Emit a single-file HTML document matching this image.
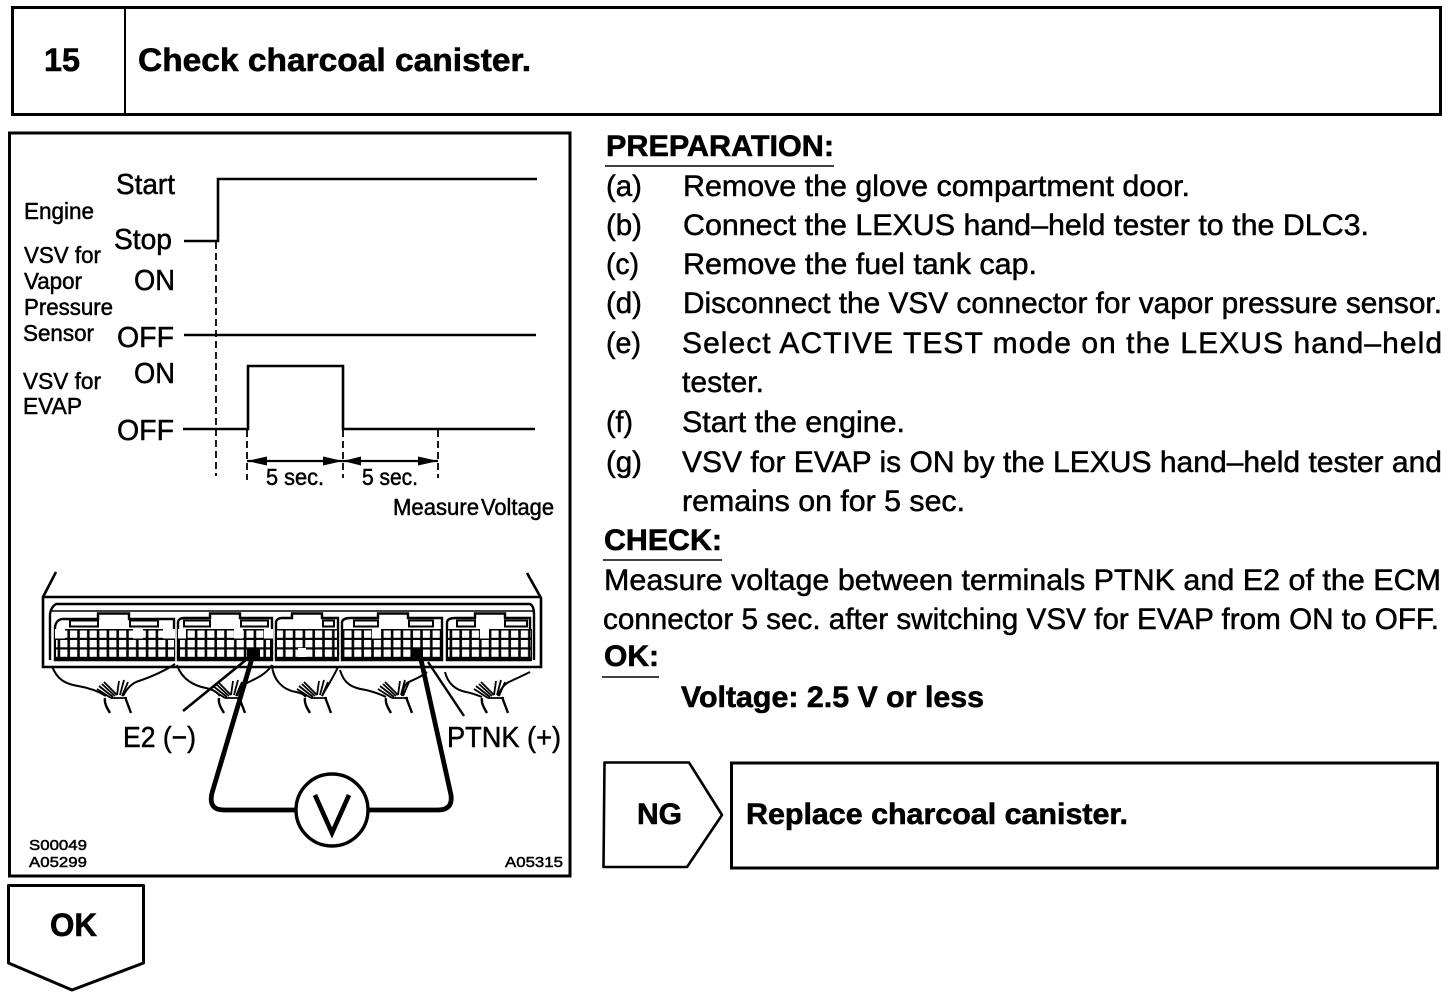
<!DOCTYPE html>
<html lang="en">
<head>
<meta charset="utf-8">
<title>Check charcoal canister</title>
<style>
html,body{margin:0;padding:0;background:#fff;width:1456px;height:998px;overflow:hidden}
svg{display:block}
text{font-family:"Liberation Sans",Arial,sans-serif;fill:#000;stroke:#000;stroke-width:.5}
.b{font-size:30px}
.h{font-weight:700;font-size:32px;stroke-width:.6}
.m{font-size:29px}
.s{font-size:23px}
.t{font-size:15px}
</style>
</head>
<body>
<svg width="1456" height="998" viewBox="0 0 1456 998" xmlns="http://www.w3.org/2000/svg">
<defs>
<pattern id="cells" x="0" y="2" width="9.8" height="9.5" patternUnits="userSpaceOnUse">
<rect x="1.4" y="1.5" width="7.2" height="7.3" fill="#fff"/>
</pattern>
<g id="bundle" fill="none" stroke="#000">
<path d="M105 698C104 703 107 708 110 713M125 697L131 713" stroke-width="2.4"/>
<path d="M97 689L111 698M99 686L113 697M102 684L115 696M104 682L117 695M117 695L119 681M120 695L124 680M122 696L128 682M111 698H127" stroke-width="1.8"/>
</g>
</defs>
<rect width="1456" height="998" fill="#fff"/>

<!-- Header -->
<rect x="12.5" y="7.5" width="1428" height="107" fill="none" stroke="#000" stroke-width="3"/>
<line x1="125" y1="8" x2="125" y2="114" stroke="#000" stroke-width="2"/>
<text x="44" y="71" class="h" textLength="36" lengthAdjust="spacingAndGlyphs">15</text>
<text x="138" y="71" class="h" textLength="393" lengthAdjust="spacingAndGlyphs">Check charcoal canister.</text>

<!-- Left panel -->
<rect x="9.5" y="133" width="560.5" height="743" fill="none" stroke="#000" stroke-width="3"/>

<!-- Timing chart labels -->
<text x="116" y="194" class="m" textLength="59" lengthAdjust="spacingAndGlyphs">Start</text>
<text x="114" y="249" class="m" textLength="58" lengthAdjust="spacingAndGlyphs">Stop</text>
<text x="134" y="290" class="m" textLength="41" lengthAdjust="spacingAndGlyphs">ON</text>
<text x="117" y="347" class="m" textLength="57" lengthAdjust="spacingAndGlyphs">OFF</text>
<text x="134" y="383" class="m" textLength="41" lengthAdjust="spacingAndGlyphs">ON</text>
<text x="117" y="440" class="m" textLength="57" lengthAdjust="spacingAndGlyphs">OFF</text>
<text x="24" y="219" class="s" textLength="70" lengthAdjust="spacingAndGlyphs">Engine</text>
<text x="24" y="263" class="s" textLength="77" lengthAdjust="spacingAndGlyphs">VSV for</text>
<text x="24" y="289" class="s" textLength="58" lengthAdjust="spacingAndGlyphs">Vapor</text>
<text x="24" y="315" class="s" textLength="89" lengthAdjust="spacingAndGlyphs">Pressure</text>
<text x="23" y="341" class="s" textLength="71" lengthAdjust="spacingAndGlyphs">Sensor</text>
<text x="23" y="389" class="s" textLength="78" lengthAdjust="spacingAndGlyphs">VSV for</text>
<text x="23" y="414" class="s" textLength="59" lengthAdjust="spacingAndGlyphs">EVAP</text>

<!-- Timing chart lines -->
<g fill="none" stroke="#000" stroke-width="2.6">
<path d="M184 241H218V179H537"/>
<path d="M184 335H536"/>
<path d="M183 429H248V366H343V429H535"/>
</g>
<g fill="none" stroke="#000" stroke-width="1.8" stroke-dasharray="7 4">
<path d="M216 242V476"/>
<path d="M247 430V480"/>
<path d="M343 430V478"/>
<path d="M438 430V478"/>
</g>
<path d="M247 461H438" stroke="#000" stroke-width="2.2" fill="none"/>
<g fill="#000">
<path d="M247 461L267 456.5V465.5Z"/>
<path d="M343 461L323 456.5V465.5Z"/>
<path d="M343 461L361 456.5V465.5Z"/>
<path d="M438 461L418 456.5V465.5Z"/>
</g>
<text x="266" y="485" class="s" textLength="58" lengthAdjust="spacingAndGlyphs">5 sec.</text>
<text x="362" y="485" class="s" textLength="56" lengthAdjust="spacingAndGlyphs">5 sec.</text>
<text x="393" y="515" class="s" textLength="86" lengthAdjust="spacingAndGlyphs">Measure</text>
<text x="481" y="515" class="s" textLength="73" lengthAdjust="spacingAndGlyphs">Voltage</text>

<!-- ECM housing -->
<g fill="none" stroke="#000">
<path d="M56 572L43 597V667H541V598L527 573" stroke-width="2.6"/>
<path d="M43 597H541" stroke-width="2.4"/>
<path d="M50 660V614Q51 607 56 604H530Q534 606 534 614V660" stroke-width="2.4"/>
<path d="M52 611H533" stroke-width="1.6"/>
</g>

<!-- Connector 1 -->
<g>
<path d="M55 660V627Q56 620 62 619H98V613.5H129V619H174V660Z" fill="#fff" stroke="#000" stroke-width="2.4"/>
<rect x="70" y="620.5" width="28" height="6" fill="#fff" stroke="#000" stroke-width="2"/>
<rect x="130" y="620.5" width="28" height="6" fill="#fff" stroke="#000" stroke-width="2"/>
<rect x="55" y="629" width="120" height="32" fill="#000"/>
<rect x="55" y="629" width="10" height="9.5" fill="#fff"/>
<rect x="133" y="629" width="10" height="9.5" fill="#fff"/>
<rect x="163" y="629" width="12" height="9.5" fill="#fff"/>
<rect x="56" y="638.5" width="118" height="18.5" fill="url(#cells)"/>
<rect x="65" y="629" width="68" height="9.5" fill="#000"/>
<rect x="65" y="629" width="68" height="9.5" fill="url(#cells)"/>
<rect x="143" y="629" width="20" height="9.5" fill="url(#cells)"/>
</g>
<!-- Connector 2 -->
<g>
<path d="M178 660V622Q179 618 184 618H210V613.5H240V618H272V660Z" fill="#fff" stroke="#000" stroke-width="2.4"/>
<rect x="184" y="620.5" width="26" height="6" fill="#fff" stroke="#000" stroke-width="2"/>
<rect x="241" y="620.5" width="27" height="6" fill="#fff" stroke="#000" stroke-width="2"/>
<rect x="178" y="629" width="95" height="32" fill="#000"/>
<rect x="178" y="629" width="8" height="9.5" fill="#fff"/>
<rect x="234" y="629" width="9" height="9.5" fill="#fff"/>
<rect x="264" y="629" width="9" height="9.5" fill="#fff"/>
<rect x="180" y="638.5" width="90" height="18.5" fill="url(#cells)"/>
<rect x="186" y="629" width="48" height="9.5" fill="url(#cells)"/>
<rect x="243" y="629" width="21" height="9.5" fill="url(#cells)"/>
<rect x="247" y="648" width="13" height="10" fill="#000"/>
</g>
<!-- Connector 3 -->
<g>
<path d="M276 660V622Q277 618 282 618H292V613.5H322V618H338V660Z" fill="#fff" stroke="#000" stroke-width="2.4"/>
<rect x="323" y="620.5" width="11" height="6" fill="#fff" stroke="#000" stroke-width="2"/>
<rect x="276" y="629" width="62" height="32" fill="#000"/>
<rect x="277" y="629" width="60" height="28" fill="url(#cells)"/>
<rect x="298" y="648" width="8" height="9" fill="#fff"/>
</g>
<!-- Connector 4 -->
<g>
<path d="M342 660V622Q343 618 350 618H378V613.5H408V618H442V660Z" fill="#fff" stroke="#000" stroke-width="2.4"/>
<rect x="354" y="620.5" width="24" height="6" fill="#fff" stroke="#000" stroke-width="2"/>
<rect x="409" y="620.5" width="24" height="6" fill="#fff" stroke="#000" stroke-width="2"/>
<rect x="342" y="629" width="101" height="32" fill="#000"/>
<rect x="343" y="629" width="99" height="28" fill="url(#cells)"/>
<rect x="372" y="629" width="9" height="9.5" fill="#fff"/>
<rect x="412" y="648" width="11" height="12" fill="#000"/>
</g>
<!-- Connector 5 -->
<g>
<path d="M447 660V622Q448 618 455 618H475V613.5H505V618H530V660Z" fill="#fff" stroke="#000" stroke-width="2.4"/>
<rect x="457" y="620.5" width="18" height="6" fill="#fff" stroke="#000" stroke-width="2"/>
<rect x="505" y="620.5" width="22" height="6" fill="#fff" stroke="#000" stroke-width="2"/>
<rect x="447" y="629" width="85" height="32" fill="#000"/>
<rect x="448" y="629" width="83" height="28" fill="url(#cells)"/>
<rect x="480" y="629" width="9" height="9.5" fill="#fff"/>
</g>

<!-- Harnesses -->
<g fill="none" stroke="#000" stroke-width="2">
<path d="M52 666C57 680 66 684 78 686C90 688 98 691 106 696"/>
<path d="M175 664C163 672 148 678 136 682C130 685 126 690 123 696"/>
<path d="M177 665C182 680 195 686 206 688C214 690 217 692 220 696"/>
<path d="M272 665C265 676 252 680 245 684C241 687 239 690 237 696"/>
<path d="M272 665C273 680 283 690 296 692C302 693 304 695 306 697"/>
<path d="M338 667C332 680 326 688 322 696"/>
<path d="M340 670C344 684 352 688 366 690C374 692 380 694 386 697"/>
<path d="M427 672C420 678 412 680 407 683C404 686 403 690 402 696"/>
<path d="M445 672C448 684 456 690 466 692C472 693 477 695 482 697"/>
<path d="M530 672C522 676 513 680 507 683C503 686 500 690 498 696"/>
</g>
<use href="#bundle"/>
<use href="#bundle" transform="translate(114 0)"/>
<use href="#bundle" transform="translate(200 0)"/>
<use href="#bundle" transform="translate(281 0)"/>
<use href="#bundle" transform="translate(377 0)"/>

<!-- Leads -->
<path d="M183 711L252 655" stroke="#000" stroke-width="2.6" fill="none"/>
<path d="M428 662L464 716" stroke="#000" stroke-width="2.4" fill="none"/>
<path d="M253 655L212 793Q208 810 224 810H296M420 655L451 795Q453 810 438 810H368" fill="none" stroke="#000" stroke-width="4.8"/>
<circle cx="332" cy="810" r="36" fill="#fff" stroke="#000" stroke-width="3.4"/>
<path d="M315 795L332 833L349 795" fill="none" stroke="#000" stroke-width="4.6"/>
<text x="123" y="747" class="m" textLength="73" lengthAdjust="spacingAndGlyphs">E2 (−)</text>
<text x="447" y="747" class="m" textLength="114" lengthAdjust="spacingAndGlyphs">PTNK (+)</text>
<text x="29" y="850" class="t" textLength="58" lengthAdjust="spacingAndGlyphs">S00049</text>
<text x="29" y="867" class="t" textLength="58" lengthAdjust="spacingAndGlyphs">A05299</text>
<text x="505" y="867" class="t" textLength="58" lengthAdjust="spacingAndGlyphs">A05315</text>

<!-- OK pentagon -->
<path d="M8.5 885.5H143.5V963L72 990L8.5 963Z" fill="#fff" stroke="#000" stroke-width="3" stroke-linejoin="round"/>
<text x="50" y="936" class="h" textLength="47" lengthAdjust="spacingAndGlyphs">OK</text>

<!-- Right column -->
<text x="606" y="156" class="h" textLength="228" lengthAdjust="spacingAndGlyphs" style="font-size:30px">PREPARATION:</text>
<line x1="605" y1="166" x2="834" y2="166" stroke="#000" stroke-width="1.6"/>

<text x="606" y="196" class="b" textLength="36" lengthAdjust="spacingAndGlyphs">(a)</text>
<text x="683" y="196" class="b" textLength="507" lengthAdjust="spacingAndGlyphs">Remove the glove compartment door.</text>
<text x="606" y="235" class="b" textLength="36" lengthAdjust="spacingAndGlyphs">(b)</text>
<text x="683" y="235" class="b" textLength="686" lengthAdjust="spacingAndGlyphs">Connect the LEXUS hand–held tester to the DLC3.</text>
<text x="606" y="274" class="b" textLength="33" lengthAdjust="spacingAndGlyphs">(c)</text>
<text x="683" y="274" class="b" textLength="354" lengthAdjust="spacingAndGlyphs">Remove the fuel tank cap.</text>
<text x="606" y="313" class="b" textLength="36" lengthAdjust="spacingAndGlyphs">(d)</text>
<text x="683" y="313" class="b" textLength="759" lengthAdjust="spacingAndGlyphs">Disconnect the VSV connector for vapor pressure sensor.</text>
<text x="606" y="353" class="b" textLength="35" lengthAdjust="spacingAndGlyphs">(e)</text>
<text x="682" y="353" class="b" textLength="760" lengthAdjust="spacing">Select ACTIVE TEST mode on the LEXUS hand–held</text>
<text x="682" y="392" class="b" textLength="82" lengthAdjust="spacingAndGlyphs">tester.</text>
<text x="606" y="432" class="b" textLength="27" lengthAdjust="spacingAndGlyphs">(f)</text>
<text x="682" y="432" class="b" textLength="223" lengthAdjust="spacingAndGlyphs">Start the engine.</text>
<text x="606" y="472" class="b" textLength="36" lengthAdjust="spacingAndGlyphs">(g)</text>
<text x="682" y="472" class="b" textLength="760" lengthAdjust="spacingAndGlyphs">VSV for EVAP is ON by the LEXUS hand–held tester and</text>
<text x="682" y="511" class="b" textLength="283" lengthAdjust="spacingAndGlyphs">remains on for 5 sec.</text>

<text x="604" y="550" class="h" textLength="118" lengthAdjust="spacingAndGlyphs" style="font-size:30px">CHECK:</text>
<line x1="603" y1="560" x2="722" y2="560" stroke="#000" stroke-width="1.6"/>
<text x="604" y="590" class="b" textLength="837" lengthAdjust="spacingAndGlyphs">Measure voltage between terminals PTNK and E2 of the ECM</text>
<text x="603" y="629" class="b" textLength="836" lengthAdjust="spacingAndGlyphs">connector 5 sec. after switching VSV for EVAP from ON to OFF.</text>
<text x="604" y="666" class="h" textLength="55" lengthAdjust="spacingAndGlyphs" style="font-size:30px">OK:</text>
<line x1="602" y1="677" x2="659" y2="677" stroke="#000" stroke-width="1.6"/>
<text x="681" y="707" class="h" textLength="303" lengthAdjust="spacingAndGlyphs" style="font-size:30px">Voltage: 2.5 V or less</text>

<!-- NG and result box -->
<path d="M604.5 762.5H689L722 815L687 867H603.5Z" fill="none" stroke="#000" stroke-width="2.6" stroke-linejoin="round"/>
<text x="637" y="824" class="h" textLength="45" lengthAdjust="spacingAndGlyphs" style="font-size:30px">NG</text>
<rect x="731.5" y="763" width="706" height="105" fill="none" stroke="#000" stroke-width="3"/>
<text x="746" y="824" class="h" textLength="382" lengthAdjust="spacingAndGlyphs" style="font-size:30px">Replace charcoal canister.</text>
</svg>
</body>
</html>
